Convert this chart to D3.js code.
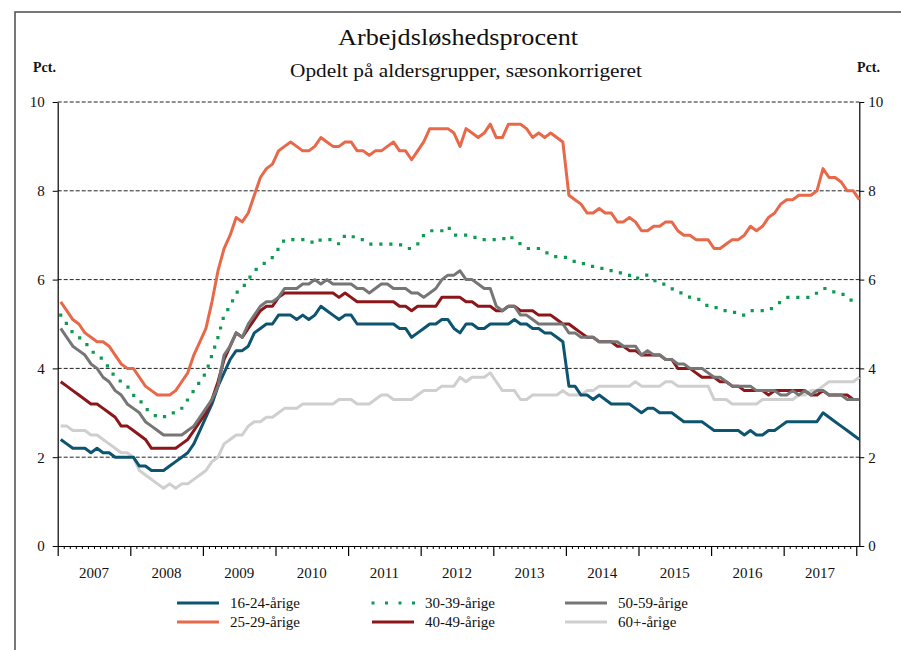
<!DOCTYPE html>
<html><head><meta charset="utf-8">
<script src="https://cdn.jsdelivr.net/npm/d3@7"></script>
<style>body{margin:0;background:#fff;} svg{display:block;} svg text{font-family:"Liberation Serif","Times New Roman",serif !important;fill:#111;}</style>
</head><body><svg id="c" width="901" height="650"></svg>
<script>
const title = "Arbejdsløshedsprocent";
const subtitle = "Opdelt på aldersgrupper, sæsonkorrigeret";
const unitLabel = "Pct.";
const yearLabels = ["2007","2008","2009","2010","2011","2012","2013","2014","2015","2016","2017"];
const yTicks = [0,2,4,6,8,10];
const seriesNames = ["16-24-årige","25-29-årige","30-39-årige","40-49-årige","50-59-årige","60+-årige"];
// Monthly values Jan 2007 .. Jan 2018
const a16_24 = [2.4,2.3,2.2,2.2,2.2,2.1,2.2,2.1,2.1,2.0,2.0,2.0,
2.0,1.8,1.8,1.7,1.7,1.7,1.8,1.9,2.0,2.1,2.3,2.6,
2.9,3.2,3.6,3.9,4.2,4.4,4.4,4.5,4.8,4.9,5.0,5.0,
5.2,5.2,5.2,5.1,5.2,5.1,5.2,5.4,5.3,5.2,5.1,5.2,
5.2,5.0,5.0,5.0,5.0,5.0,5.0,5.0,4.9,4.9,4.7,4.8,
4.9,5.0,5.0,5.1,5.1,4.9,4.8,5.0,5.0,4.9,4.9,5.0,
5.0,5.0,5.0,5.1,5.0,5.0,4.9,4.9,4.8,4.8,4.7,4.6,
3.6,3.6,3.4,3.4,3.3,3.4,3.3,3.2,3.2,3.2,3.2,3.1,
3.0,3.1,3.1,3.0,3.0,3.0,2.9,2.8,2.8,2.8,2.8,2.7,
2.6,2.6,2.6,2.6,2.6,2.5,2.6,2.5,2.5,2.6,2.6,2.7,
2.8,2.8,2.8,2.8,2.8,2.8,3.0,2.9,2.8,2.7,2.6,2.5,
2.4];
const a25_29 = [5.5,5.3,5.1,5.0,4.8,4.7,4.6,4.6,4.5,4.3,4.1,4.0,
4.0,3.8,3.6,3.5,3.4,3.4,3.4,3.5,3.7,3.9,4.3,4.6,
4.9,5.5,6.2,6.7,7.0,7.4,7.3,7.5,7.9,8.3,8.5,8.6,
8.9,9.0,9.1,9.0,8.9,8.9,9.0,9.2,9.1,9.0,9.0,9.1,
9.1,8.9,8.9,8.8,8.9,8.9,9.0,9.1,8.9,8.9,8.7,8.9,
9.1,9.4,9.4,9.4,9.4,9.3,9.0,9.4,9.3,9.2,9.3,9.5,
9.2,9.2,9.5,9.5,9.5,9.4,9.2,9.3,9.2,9.3,9.2,9.1,
7.9,7.8,7.7,7.5,7.5,7.6,7.5,7.5,7.3,7.3,7.4,7.3,
7.1,7.1,7.2,7.2,7.3,7.3,7.1,7.0,7.0,6.9,6.9,6.9,
6.7,6.7,6.8,6.9,6.9,7.0,7.2,7.1,7.2,7.4,7.5,7.7,
7.8,7.8,7.9,7.9,7.9,8.0,8.5,8.3,8.3,8.2,8.0,8.0,
7.8];
const a30_39 = [5.2,5.0,4.8,4.7,4.6,4.4,4.3,4.2,4.0,3.8,3.7,3.6,
3.4,3.3,3.1,3.0,2.9,2.9,3.0,3.0,3.1,3.3,3.5,3.7,
3.9,4.3,4.7,5.2,5.4,5.7,5.8,6.0,6.2,6.3,6.4,6.5,
6.7,6.9,6.9,6.9,6.9,6.9,6.8,6.9,6.9,6.9,6.8,7.0,
7.0,6.9,6.9,6.8,6.8,6.8,6.8,6.8,6.8,6.7,6.7,6.8,
7.0,7.1,7.1,7.1,7.2,7.0,7.0,7.0,7.0,6.9,6.9,6.9,
6.9,6.9,7.0,6.9,6.8,6.7,6.7,6.7,6.6,6.6,6.5,6.5,
6.5,6.4,6.4,6.3,6.3,6.3,6.2,6.2,6.2,6.1,6.1,6.0,
6.1,6.1,6.0,5.9,5.9,5.8,5.7,5.7,5.6,5.6,5.5,5.4,
5.4,5.3,5.3,5.3,5.2,5.2,5.3,5.3,5.3,5.3,5.4,5.5,
5.6,5.6,5.6,5.6,5.6,5.7,5.8,5.8,5.7,5.7,5.6,5.5,
5.5];
const a40_49 = [3.7,3.6,3.5,3.4,3.3,3.2,3.2,3.1,3.0,2.9,2.7,2.7,
2.6,2.5,2.4,2.2,2.2,2.2,2.2,2.2,2.3,2.4,2.6,2.8,
3.0,3.3,3.7,4.2,4.5,4.8,4.7,4.9,5.1,5.3,5.4,5.4,
5.6,5.7,5.7,5.7,5.7,5.7,5.7,5.7,5.7,5.7,5.6,5.7,
5.6,5.5,5.5,5.5,5.5,5.5,5.5,5.5,5.4,5.4,5.3,5.4,
5.4,5.4,5.4,5.6,5.6,5.6,5.6,5.5,5.5,5.4,5.4,5.4,
5.3,5.3,5.4,5.4,5.3,5.3,5.3,5.2,5.2,5.2,5.1,5.0,
5.0,4.9,4.8,4.7,4.7,4.6,4.6,4.6,4.5,4.5,4.4,4.4,
4.3,4.3,4.3,4.3,4.2,4.2,4.0,4.0,4.0,3.9,3.8,3.8,
3.8,3.7,3.7,3.6,3.6,3.5,3.5,3.5,3.5,3.4,3.5,3.5,
3.5,3.5,3.5,3.5,3.4,3.4,3.5,3.4,3.4,3.4,3.4,3.3,
3.3];
const a50_59 = [4.9,4.7,4.5,4.4,4.3,4.1,4.0,3.8,3.7,3.5,3.4,3.2,
3.1,3.0,2.8,2.7,2.6,2.5,2.5,2.5,2.5,2.6,2.7,2.9,
3.1,3.3,3.6,4.3,4.5,4.8,4.7,5.0,5.2,5.4,5.5,5.5,
5.6,5.8,5.8,5.8,5.9,5.9,6.0,5.9,6.0,5.9,5.9,5.9,
5.9,5.8,5.8,5.7,5.8,5.9,5.9,5.8,5.8,5.8,5.7,5.7,
5.6,5.7,5.8,6.0,6.1,6.1,6.2,6.0,6.0,5.9,5.8,5.8,
5.4,5.3,5.4,5.4,5.2,5.2,5.1,5.0,5.0,5.0,5.0,5.0,
4.8,4.8,4.7,4.7,4.7,4.6,4.6,4.6,4.6,4.5,4.5,4.5,
4.3,4.4,4.3,4.3,4.2,4.2,4.1,4.1,4.0,4.0,4.0,3.9,
3.8,3.8,3.7,3.6,3.6,3.6,3.6,3.5,3.5,3.5,3.5,3.4,
3.4,3.5,3.4,3.5,3.4,3.5,3.5,3.4,3.4,3.4,3.3,3.3,
3.3];
const a60plus = [2.7,2.7,2.6,2.6,2.6,2.5,2.5,2.4,2.3,2.2,2.1,2.1,
2.0,1.7,1.6,1.5,1.4,1.3,1.4,1.3,1.4,1.4,1.5,1.6,
1.7,1.9,2.0,2.3,2.4,2.5,2.5,2.7,2.8,2.8,2.9,2.9,
3.0,3.1,3.1,3.1,3.2,3.2,3.2,3.2,3.2,3.2,3.3,3.3,
3.3,3.2,3.2,3.2,3.3,3.4,3.4,3.3,3.3,3.3,3.3,3.4,
3.5,3.5,3.5,3.6,3.6,3.6,3.8,3.7,3.8,3.8,3.8,3.9,
3.7,3.5,3.5,3.5,3.3,3.3,3.4,3.4,3.4,3.4,3.4,3.5,
3.4,3.4,3.4,3.5,3.5,3.6,3.6,3.6,3.6,3.6,3.6,3.7,
3.6,3.6,3.6,3.6,3.7,3.7,3.6,3.6,3.6,3.6,3.6,3.6,
3.3,3.3,3.3,3.2,3.2,3.2,3.2,3.2,3.3,3.3,3.3,3.3,
3.3,3.3,3.4,3.4,3.5,3.5,3.6,3.7,3.7,3.7,3.7,3.7,
3.8];
const seriesColors = ["#0d5470","#e8694a","#0d9a52","#8c1619","#767676","#cfcfcf"];

const svg = d3.select("#c");
const L = 57.7, R = 859.3, T = 102, B = 546;
const x = d3.scaleLinear().domain([0, 132.5]).range([L, R]);
const y = d3.scaleLinear().domain([0, 10]).range([B, T]);

// frame
svg.append("rect").attr("x",15).attr("y",12).attr("width",900).attr("height",700)
  .attr("fill","none").attr("stroke","#555").attr("stroke-width",1.6);

// titles
svg.append("text").attr("x",458).attr("y",45).attr("text-anchor","middle")
  .attr("font-size",24).attr("textLength",240).attr("lengthAdjust","spacingAndGlyphs").text(title);
svg.append("text").attr("x",466).attr("y",77).attr("text-anchor","middle")
  .attr("font-size",19).attr("textLength",352).attr("lengthAdjust","spacingAndGlyphs").text(subtitle);
svg.append("text").attr("x",33).attr("y",72).attr("font-size",14).attr("font-weight","bold").text(unitLabel);
svg.append("text").attr("x",857).attr("y",72).attr("font-size",14).attr("font-weight","bold").text(unitLabel);

// gridlines
svg.append("g").selectAll("line").data(yTicks.filter(d=>d>0)).join("line")
  .attr("x1",L).attr("x2",R).attr("y1",d=>y(d)).attr("y2",d=>y(d))
  .attr("stroke","#222").attr("stroke-width",1).attr("stroke-dasharray","4,2");

// left / right axes
const la = svg.append("g").attr("transform",`translate(${L},0)`)
  .call(d3.axisLeft(y).tickValues(yTicks).tickSize(5).tickSizeOuter(0).tickPadding(8));
const ra = svg.append("g").attr("transform",`translate(${R},0)`)
  .call(d3.axisRight(y).tickValues(yTicks).tickSize(5).tickSizeOuter(0).tickPadding(4));
[la,ra].forEach(g=>{
  g.attr("font-family",null);
  g.selectAll("text").attr("font-size",15).attr("fill","#111");
  g.selectAll("line,path").attr("stroke","#000");
  g.select(".domain").attr("stroke-width",1.2);
});

// bottom axis: monthly minor ticks and yearly major ticks
const months = d3.range(0, 133);
const yearStarts = d3.range(0, 133, 12);
const bm = svg.append("g").attr("transform",`translate(0,${B})`)
  .call(d3.axisBottom(x).tickValues(months.filter(m=>m%12!==0)).tickSize(3).tickSizeOuter(0).tickFormat(""));
bm.select(".domain").attr("stroke","#000").attr("stroke-width",1.2);
bm.selectAll("line").attr("stroke","#000");
const bM = svg.append("g").attr("transform",`translate(0,${B})`)
  .call(d3.axisBottom(x).tickValues(yearStarts).tickSize(10).tickSizeOuter(0).tickFormat(""));
bM.select(".domain").remove();
bM.selectAll("line").attr("stroke","#000").attr("stroke-width",1.2);
svg.append("g").selectAll("text").data(yearLabels).join("text")
  .attr("x",(d,i)=>x(i*12+6)).attr("y",578).attr("text-anchor","middle").attr("font-size",15).text(d=>d);

// lines
const all = [a16_24,a25_29,a30_39,a40_49,a50_59,a60plus];
const line = d3.line().x((d,i)=>x(i+0.5)).y(d=>y(d));
const drawOrder = [5,0,1,2,3,4];
drawOrder.forEach(k=>{
  const p = svg.append("path").datum(all[k]).attr("d",line).attr("fill","none")
    .attr("stroke",seriesColors[k]).attr("stroke-width",3).attr("stroke-linejoin","round");
  if (k===2) p.attr("stroke-dasharray","0,10").attr("stroke-linecap","square").attr("stroke-width",3.2);
});

// legend
const legPos = [[177,603],[177,622],[372,603],[372,622],[565,603],[565,622]];
seriesNames.forEach((n,k)=>{
  const [lx,ly] = legPos[k];
  const ln = svg.append("line").attr("x1",lx).attr("x2",lx+42).attr("y1",ly).attr("y2",ly)
    .attr("stroke",seriesColors[k]).attr("stroke-width",3);
  if (k===2) ln.attr("x1",lx+1).attr("stroke-dasharray","0,13.5").attr("stroke-linecap","square");
  svg.append("text").attr("x",lx+53).attr("y",ly+5).attr("font-size",15).text(n);
});
</script></body></html>
